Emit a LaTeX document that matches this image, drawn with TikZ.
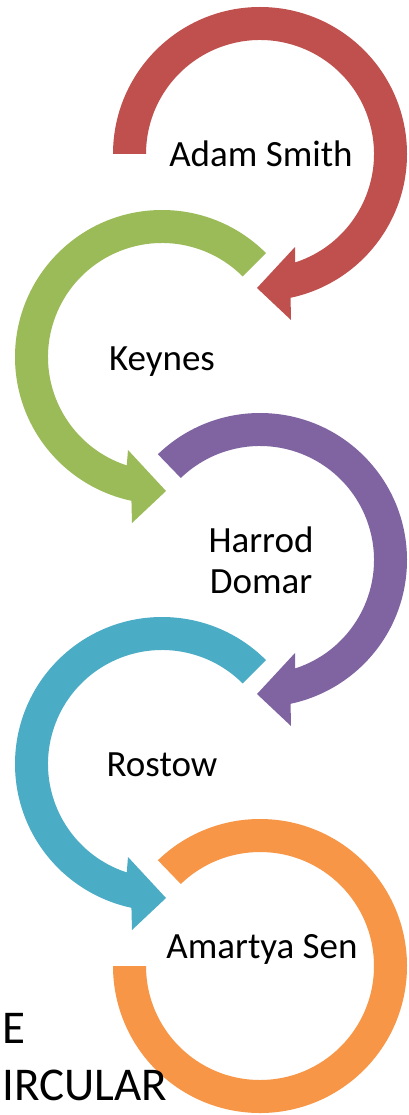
\documentclass[tikz,border=0pt]{standalone}
\usepackage{fontspec}
\setmainfont{Carlito}
\usetikzlibrary{calc}
\definecolor{cred}{HTML}{C0504D}
\definecolor{cgreen}{HTML}{9BBB59}
\definecolor{cpurple}{HTML}{8064A2}
\definecolor{ccyan}{HTML}{4BACC6}
\definecolor{corange}{HTML}{F79646}
\tikzset{
  lbl/.style={font=\fontsize{37}{41}\selectfont, inner sep=0pt, anchor=base, align=center},
  bigtxt/.style={font=\fontsize{47}{57}\selectfont, inner sep=0pt, anchor=base west},
}
\newcommand{\ro}{147}
\newcommand{\ri}{114}
\begin{document}
\begin{tikzpicture}[x=1pt,y=-1pt]
\useasboundingbox (0,0) rectangle (408,1115);
\fill[white] (0,0) rectangle (408,1115);
% centers
\coordinate (c1) at (260,154);
\coordinate (c2) at (162,357);
\coordinate (c3) at (260,560);
\coordinate (c4) at (162,764);
\coordinate (c5) at (260,966);
% red: clockwise from left, arrow pointing left at bottom
\fill[cred] (c1) ++(180:\ro) arc[start angle=180, end angle=438, radius=\ro]
  -- ($(c1)+(31,166)$) -- ($(c1)+(-3,134)$) -- ($(c1)+(35,93)$)
  -- ($(c1)+(72:\ri)$) arc[start angle=432, end angle=180, radius=\ri] -- cycle;
% green: counterclockwise from upper right, arrow pointing right at bottom
\fill[cgreen] (c2) ++(315:\ro) arc[start angle=315, end angle=102, radius=\ro]
  -- ($(c2)+(-30,166)$) -- ($(c2)+(4,134)$) -- ($(c2)+(-34,93)$)
  -- ($(c2)+(108:\ri)$) arc[start angle=108, end angle=315, radius=\ri] -- cycle;
% purple
\fill[cpurple] (c3) ++(226:\ro) arc[start angle=226, end angle=438, radius=\ro]
  -- ($(c3)+(31,166)$) -- ($(c3)+(-3,134)$) -- ($(c3)+(35,93)$)
  -- ($(c3)+(72:\ri)$) arc[start angle=432, end angle=226, radius=\ri] -- cycle;
% cyan
\fill[ccyan] (c4) ++(315:\ro) arc[start angle=315, end angle=102, radius=\ro]
  -- ($(c4)+(-30,166)$) -- ($(c4)+(4,134)$) -- ($(c4)+(-34,93)$)
  -- ($(c4)+(108:\ri)$) arc[start angle=108, end angle=315, radius=\ri] -- cycle;
% orange
\fill[corange] (c5) ++(226:\ro) arc[start angle=226, end angle=540, radius=\ro]
  -- ++(33,0) arc[start angle=540, end angle=226, radius=\ri] -- cycle;
% labels
\node[lbl] (t1) at (261,167) {Adam Smith};
\node[lbl] (t2) at (162,370) {Keynes};
\node[lbl] (t3) at (261,593) {Harrod\\Domar};
\node[lbl] (t4) at (162,776) {Rostow};
\node[lbl] (t5) at (262,958) {Amartya Sen};
\node[bigtxt] (b1) at (2,1043) {E};
\node[bigtxt] (b2) at (2,1100) {IRCULAR};
\end{tikzpicture}
\end{document}
